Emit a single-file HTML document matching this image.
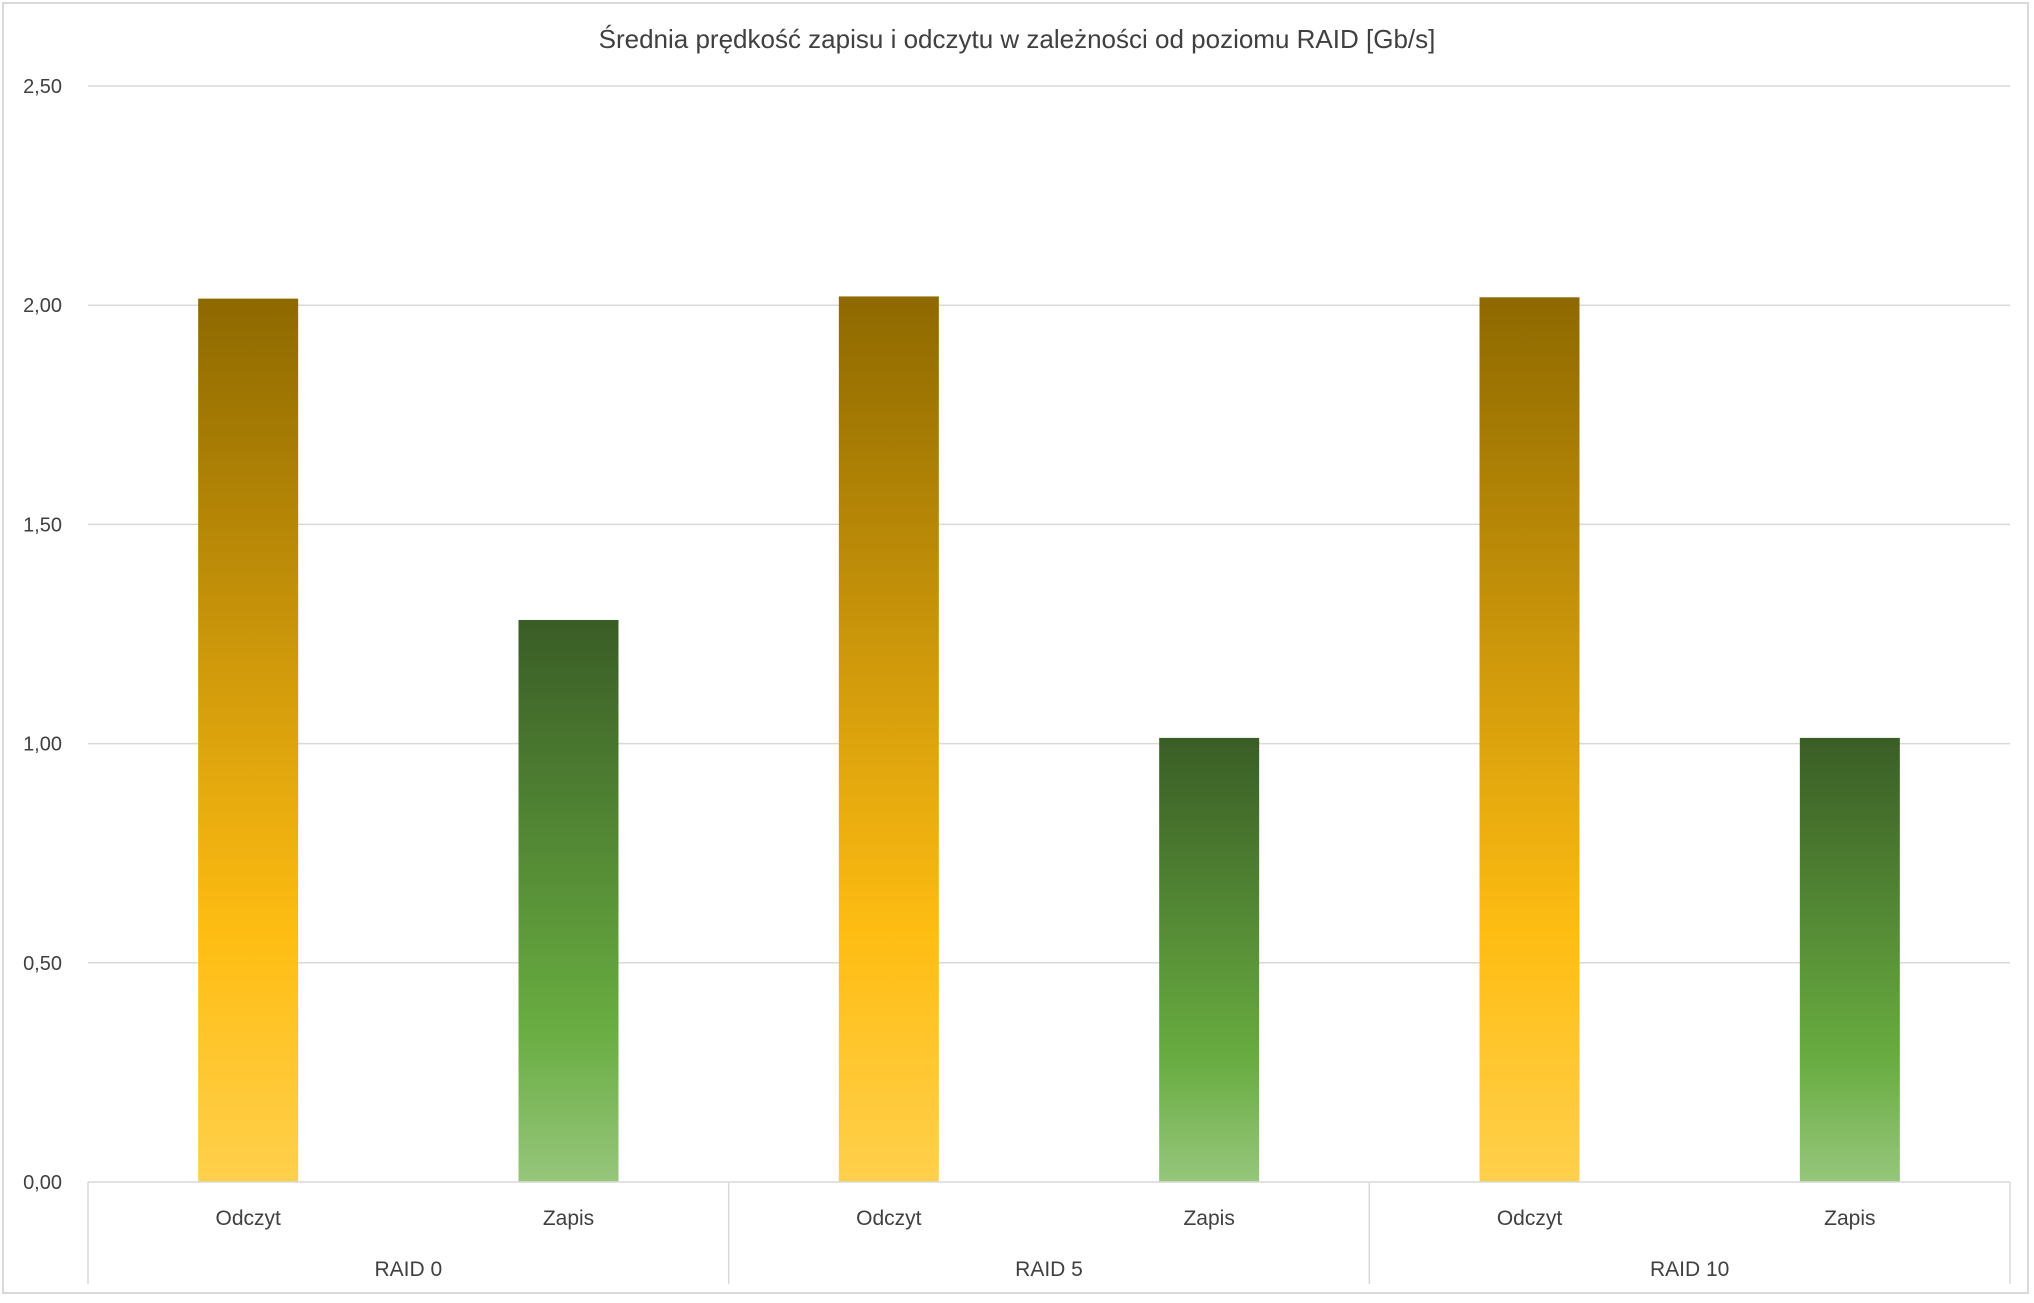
<!DOCTYPE html>
<html><head><meta charset="utf-8"><style>
html,body{margin:0;padding:0;background:#fff;}
svg text{font-family:"Liberation Sans",sans-serif;fill:#404040;}
</style></head><body>
<svg id="chart" width="2034" height="1298" xmlns="http://www.w3.org/2000/svg">
<defs>
<linearGradient id="gOd" x1="0" y1="0" x2="0" y2="1">
<stop offset="0" stop-color="#8e6900"/><stop offset="0.72" stop-color="#ffbd12"/><stop offset="1" stop-color="#ffd04c"/>
</linearGradient>
<linearGradient id="gZa" x1="0" y1="0" x2="0" y2="1">
<stop offset="0" stop-color="#3a5d26"/><stop offset="0.72" stop-color="#68ac40"/><stop offset="1" stop-color="#96c67b"/>
</linearGradient>
</defs>
<rect x="3" y="3" width="2025" height="1290" fill="#fff" stroke="#d9d9d9" stroke-width="2"/>
<text x="1017" y="48" text-anchor="middle" font-size="26">Średnia prędkość zapisu i odczytu w zależności od poziomu RAID [Gb/s]</text>
<g id="grid"></g><g id="bars"></g><g id="xaxis"></g>
</svg>
<script>
const groups = ["RAID 0","RAID 5","RAID 10"];
const subcats = ["Odczyt","Zapis"];
const odczyt = [2.015, 2.02, 2.018];
const zapis = [1.282, 1.013, 1.013];
const yTicks = [0, 0.5, 1.0, 1.5, 2.0, 2.5];
const yTickLabels = ["0,00","0,50","1,00","1,50","2,00","2,50"];
const NS="http://www.w3.org/2000/svg";
const L=88,R=2010,T=86,B=1182,yMax=2.5;
const y=v=>B-(v/yMax)*(B-T);
const gw=(R-L)/groups.length, sw=gw/subcats.length, bw=100;
function mk(t,a,p){const e=document.createElementNS(NS,t);for(const k in a)e.setAttribute(k,a[k]);p.appendChild(e);return e;}
const grid=document.getElementById('grid'),bars=document.getElementById('bars'),xa=document.getElementById('xaxis');
yTicks.forEach((v,i)=>{
 if(v>0){const l=mk('line',{x1:L,x2:R,y1:y(v),y2:y(v),stroke:'#d9d9d9','stroke-width':1.5},grid);
 
 }
 const t=mk('text',{x:62,y:y(v)+7,'text-anchor':'end','font-size':20},grid);t.textContent=yTickLabels[i];
 
 
});
const series=[odczyt,zapis], fills=['url(#gOd)','url(#gZa)'];
groups.forEach((g,gi)=>{
 series.forEach((s,si)=>{
  const cx=L+gi*gw+(si+0.5)*sw;
  const r=mk('rect',{x:cx-bw/2,y:y(s[gi]),width:bw,height:B-y(s[gi]),fill:fills[si]},bars);
  
  
  const t=mk('text',{x:cx,y:1225,'text-anchor':'middle','font-size':21},xa);t.textContent=subcats[si];
  
  
 });
 const t=mk('text',{x:L+(gi+0.5)*gw,y:1276,'text-anchor':'middle','font-size':21},xa);t.textContent=g;
 
 
});
const ax=mk('line',{x1:L,x2:R,y1:B,y2:B,stroke:'#d9d9d9','stroke-width':1.5},xa);


for(let i=0;i<=groups.length;i++){
 const l=mk('line',{x1:L+i*gw,x2:L+i*gw,y1:B,y2:1284,stroke:'#d9d9d9','stroke-width':1.5},xa);
 
 
}
</script>
</body></html>
